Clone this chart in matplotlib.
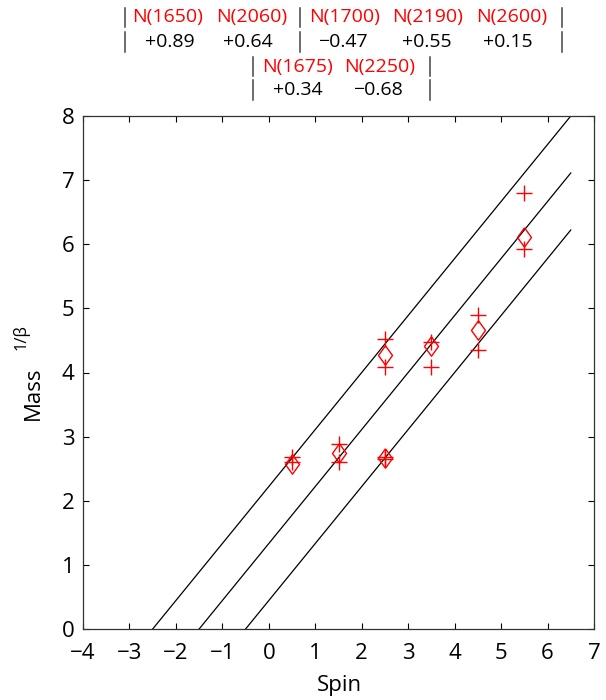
import matplotlib
matplotlib.use("Agg")
import matplotlib.pyplot as plt
from matplotlib.lines import Line2D
import numpy as np

plt.rcParams['font.family'] = ['Open Sans', 'DejaVu Sans']

# Data
spin = [0.5, 1.5, 2.5, 2.5, 3.5, 4.5, 5.5]
mass_mean = [2.58, 2.74, 2.66, 4.28, 4.42, 4.66, 6.11]
mass_upper = [2.68, 2.88, 2.69, 4.52, 4.48, 4.90, 6.80]
mass_lower = [2.60, 2.60, 2.65, 4.08, 4.09, 4.35, 5.92]

line_x0 = [-2.5, -1.5, -0.5]   # spin where trajectory reaches Mass=0
line_slope = 8.0 / 9.0
line_xend = 6.5

hdr1_names = ["N(1650)", "N(2060)", "N(1700)", "N(2190)", "N(2600)"]
hdr1_vals = ["+0.89", "+0.64", "\u22120.47", "+0.55", "+0.15"]
hdr2_names = ["N(1675)", "N(2250)"]
hdr2_vals = ["+0.34", "\u22120.68"]

xticks = list(range(-4, 8))
yticks = list(range(0, 9))

W, H = 606, 700
fig = plt.figure(figsize=(W / 100, H / 100), dpi=100)
ax = fig.add_axes([83 / W, 1 - 629 / H, (594 - 83) / W, (629 - 116) / H])

for x0 in line_x0:
    xs = np.array([x0, line_xend])
    ax.plot(xs, line_slope * (xs - x0), color='black', lw=0.9)

diamond = [(0, 1), (0.72, 0), (0, -1), (-0.72, 0), (0, 1)]
ax.plot(spin, mass_upper, '+', color='red', ms=12, mew=1.0, ls='none')
ax.plot(spin, mass_lower, '+', color='red', ms=12, mew=1.0, ls='none')
ax.plot(spin, mass_mean, marker=diamond, color='red', mfc='none', ms=14,
        mew=1.0, ls='none')

ax.set_xlim(-4, 7)
ax.set_ylim(0, 8)
ax.set_xticks(xticks)
ax.set_yticks(yticks)
ax.set_xticklabels([str(v).replace('-', '\u2212') for v in xticks])
ax.tick_params(direction='in', top=True, right=True, labelsize=16, length=4,
               width=0.8)
ax.tick_params(axis='x', pad=10)
ax.tick_params(axis='y', pad=6)
for s in ax.spines.values():
    s.set_linewidth(0.9)
    s.set_color('#333333')

def fx(px):
    return px / W
def fy(py):
    return 1 - py / H

fig.text(fx(339), fy(685), "Spin", fontsize=16, ha='center', va='center')
fig.text(fx(33), fy(393), "Mass", fontsize=16, ha='center', va='center', rotation=90)
fig.text(fx(21), fy(337), "1/\u03b2", fontsize=12, ha='center', va='center', rotation=90)

fs = 14
def bar(px, y0, y1):
    fig.add_artist(Line2D([fx(px), fx(px)], [fy(y0), fy(y1)],
                          transform=fig.transFigure, color='#444444', lw=1.1))

# header rows 1/2
for name, px in zip(hdr1_names, [168, 252, 345, 428, 512]):
    fig.text(fx(px), fy(17), name, color='red', fontsize=fs, ha='center', va='center')
for val, px in zip(hdr1_vals, [170, 248, 343, 427, 508]):
    fig.text(fx(px), fy(42), val, color='black', fontsize=fs, ha='center', va='center')
for px in [125, 300, 562]:
    bar(px, 8, 27)
    bar(px, 32, 52)
# header rows 3/4
for name, px in zip(hdr2_names, [297, 380]):
    fig.text(fx(px), fy(67), name, color='red', fontsize=fs, ha='center', va='center')
for val, px in zip(hdr2_vals, [298, 378]):
    fig.text(fx(px), fy(90), val, color='black', fontsize=fs, ha='center', va='center')
for px in [253, 430]:
    bar(px, 57, 76)
    bar(px, 80, 100)

fig.savefig("out.png", dpi=100)
